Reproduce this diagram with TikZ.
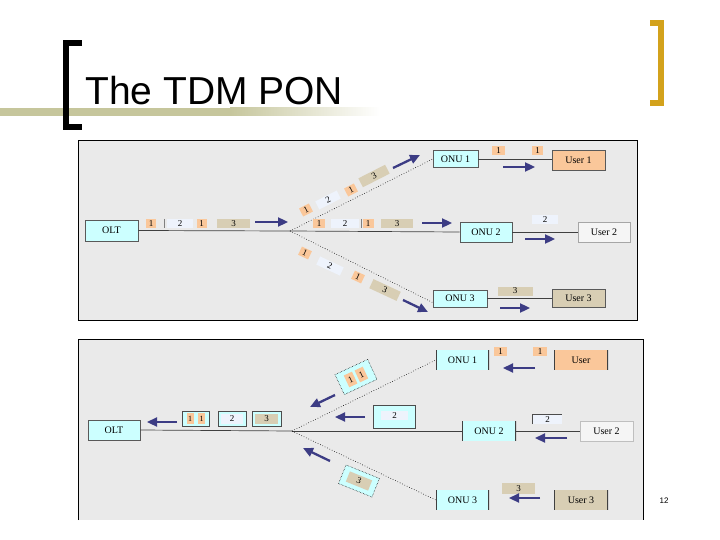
\documentclass[tikz,border=0pt]{standalone}
\usepackage{fontspec}
\setmainfont{Liberation Serif}
\newfontfamily\titlefont{Liberation Sans}
\usetikzlibrary{arrows.meta,calc}
\definecolor{panelbg}{HTML}{EAEAEA}
\definecolor{cyanbox}{HTML}{CCFFFF}
\definecolor{peach}{HTML}{FAC79A}
\definecolor{paleblue}{HTML}{EEF3FC}
\definecolor{tanbox}{HTML}{D8CEB4}
\definecolor{usertwo}{HTML}{F5F5F5}
\definecolor{navyarr}{HTML}{3C3C84}
\definecolor{goldbr}{HTML}{D3A21C}
\definecolor{khakiline}{HTML}{C6C69C}
\begin{document}
\begin{tikzpicture}[x=1pt,y=-1pt,
 box/.style={draw=black!65, line width=0.7pt, inner sep=0pt, font=\fontsize{10}{10}\selectfont},
 vbox/.style={inner sep=0pt, font=\fontsize{10}{10}\selectfont,
   path picture={\draw[line width=1.8pt, black!75]
     (path picture bounding box.north west) -- (path picture bounding box.south west)
     (path picture bounding box.north east) -- (path picture bounding box.south east);}},
 pkt/.style={inner sep=0pt, font=\fontsize{9}{9}\selectfont},
 arr/.style={draw=navyarr, line width=2.3pt, -{Triangle[length=10pt,width=9pt]}},
 fiber/.style={draw=black!75, line width=0.7pt},
 dfiber/.style={draw=black, line width=0.6pt, dotted},
 pframe/.style={fill=cyanbox, inner sep=0pt, draw=black, line width=0.5pt, densely dotted},
 tick/.style={draw=gray, line width=0.6pt}
]
\useasboundingbox (0,0) rectangle (720,540);
\fill[white] (0,0) rectangle (720,540);

% ---------- title ----------
\fill[khakiline] (0,108) rectangle (230,116);
\shade[left color=khakiline, right color=white] (230,108) rectangle (380,116);
\draw[line width=6pt, black, line join=miter] (82,43) -- (66,43) -- (66,127) -- (82,127);
\draw[line width=6pt, goldbr, line join=miter] (650,23) -- (661,23) -- (661,103) -- (650,103);
\node[anchor=base west, inner sep=0pt, font=\titlefont\fontsize{39}{39}\selectfont] (title) at (85,105) {The TDM PON};
\node[font=\titlefont\fontsize{8}{8}\selectfont] (pageno) at (664,501) {12};

% ---------- top panel ----------
\fill[panelbg] (78,140) rectangle (637,320);
\draw[black, line width=0.8pt] (78,140) rectangle (637,320);

\node[box, fill=cyanbox, minimum width=53pt, minimum height=21pt] (olt1) at (111.5,230.5) {OLT};
\coordinate (sp1) at (290,231);
\node[box, fill=cyanbox, minimum width=45pt, minimum height=17pt] (onu11) at (455.5,159) {ONU 1};
\node[box, fill=peach, minimum width=53pt, minimum height=20pt] (usr11) at (578.5,160) {User 1};
\node[box, fill=cyanbox, minimum width=52pt, minimum height=20pt] (onu12) at (486,232) {ONU 2};
\node[box, draw=black!35, fill=usertwo, minimum width=52pt, minimum height=20pt] (usr12) at (604,232) {User 2};
\node[box, fill=cyanbox, minimum width=54pt, minimum height=17pt] (onu13) at (460,298.5) {ONU 3};
\node[box, fill=tanbox, minimum width=53pt, minimum height=18pt] (usr13) at (578.5,298) {User 3};

\draw[fiber] (olt1.east) -- (sp1);
\draw[fiber] (sp1) -- (onu12.west);
\draw[dfiber] (sp1) -- (onu11.west);
\draw[dfiber] (sp1) -- ([yshift=-4pt]onu13.west);
\draw[fiber] (onu11.east) -- (onu11.east -| usr11.west);
\draw[fiber] (onu12.east) -- (usr12.west);
\draw[fiber] (onu13.east) -- (onu13.east -| usr13.west);

% packets on OLT line
\node[pkt, fill=peach, minimum width=10pt, minimum height=9pt] (a1) at (151,223.5) {1};
\draw[tick] (164,219) -- (164,228);
\node[pkt, fill=paleblue, minimum width=26pt, minimum height=9pt] (a2) at (180,223.5) {2};
\node[pkt, fill=peach, minimum width=10pt, minimum height=9pt] (a3) at (201.5,223.5) {1};
\node[pkt, fill=tanbox, minimum width=33pt, minimum height=9pt] (a4) at (233.5,223.5) {3};
\coordinate (ar1s) at (255,222); \coordinate (ar1e) at (288,222);
\draw[arr] (ar1s) -- (ar1e);

% packets on middle branch
\node[pkt, fill=peach, minimum width=12pt, minimum height=9pt] (b1) at (319,223.5) {1};
\node[pkt, fill=paleblue, minimum width=28pt, minimum height=9pt] (b2) at (345,223.5) {2};
\draw[tick] (361,219) -- (361,228);
\node[pkt, fill=peach, minimum width=11pt, minimum height=9pt] (b3) at (368,223.5) {1};
\node[pkt, fill=tanbox, minimum width=32pt, minimum height=9pt] (b4) at (397,223.5) {3};
\coordinate (ar2s) at (422,223); \coordinate (ar2e) at (452,223);
\draw[arr] (ar2s) -- (ar2e);

% packets on upper branch
\node[pkt, rotate=27, fill=peach, minimum width=11pt, minimum height=9pt] (c1) at (306,210) {1};
\node[pkt, rotate=27, fill=paleblue, minimum width=24pt, minimum height=9pt] (c2) at (328,200) {2};
\node[pkt, rotate=27, fill=peach, minimum width=11pt, minimum height=9pt] (c3) at (351,190) {1};
\node[pkt, rotate=27, fill=tanbox, minimum width=30pt, minimum height=10pt] (c4) at (374,176) {3};
\coordinate (ar3s) at (393,168); \coordinate (ar3e) at (420,155);
\draw[arr] (ar3s) -- (ar3e);

% packets on lower branch
\node[pkt, rotate=-25, fill=peach, minimum width=11pt, minimum height=9pt] (d1) at (305,253) {1};
\node[pkt, rotate=-25, fill=paleblue, minimum width=26pt, minimum height=9pt] (d2) at (330,266) {2};
\node[pkt, rotate=-25, fill=peach, minimum width=11pt, minimum height=9pt] (d3) at (358,277) {1};
\node[pkt, rotate=-25, fill=tanbox, minimum width=30pt, minimum height=10pt] (d4) at (385,290) {3};
\coordinate (ar4s) at (403,300); \coordinate (ar4e) at (428,312);
\draw[arr] (ar4s) -- (ar4e);

% ONU side packets
\node[pkt, fill=peach, minimum width=13pt, minimum height=9pt] (e1) at (498.5,151) {1};
\node[pkt, fill=peach, minimum width=11pt, minimum height=9pt] (e2) at (537.5,151) {1};
\coordinate (ar5s) at (503,167); \coordinate (ar5e) at (535,167);
\draw[arr] (ar5s) -- (ar5e);
\node[pkt, fill=paleblue, minimum width=26pt, minimum height=9pt] (e3) at (545,220) {2};
\coordinate (ar6s) at (525,239); \coordinate (ar6e) at (555,239);
\draw[arr] (ar6s) -- (ar6e);
\node[pkt, fill=tanbox, minimum width=35pt, minimum height=9pt] (e4) at (515,291) {3};
\coordinate (ar7s) at (500,308); \coordinate (ar7e) at (530,308);
\draw[arr] (ar7s) -- (ar7e);

% ---------- bottom panel ----------
\fill[panelbg] (78,339) rectangle (643,520);
\draw[black, line width=0.8pt] (78,520) -- (78,339) -- (643,339) -- (643,520);

\node[box, fill=cyanbox, minimum width=52pt, minimum height=20pt] (olt2) at (114,430) {OLT};
\coordinate (sp2) at (292,431);
\node[vbox, fill=cyanbox, minimum width=53pt, minimum height=20pt] (onu21) at (462.5,360) {ONU 1};
\node[vbox, fill=peach, minimum width=54pt, minimum height=20pt] (usr21) at (581,360) {User};
\node[vbox, fill=cyanbox, minimum width=54pt, minimum height=20pt] (onu22) at (489,431) {ONU 2};
\node[box, draw=black!25, fill=usertwo, minimum width=53pt, minimum height=20pt] (usr22) at (606.5,431) {User 2};
\node[vbox, fill=cyanbox, minimum width=53pt, minimum height=20pt] (onu23) at (462.5,500) {ONU 3};
\node[vbox, fill=tanbox, minimum width=54pt, minimum height=20pt] (usr23) at (581,500) {User 3};

\draw[fiber] (olt2.east) -- (sp2);
\draw[fiber] (sp2) -- (onu22.west);
\draw[dfiber] (sp2) -- (onu21.west);
\draw[dfiber] (sp2) -- (onu23.west);
\draw[fiber] (onu22.east) -- (usr22.west);

% frames near OLT
\node[pframe, solid, draw=black!70, minimum width=27pt, minimum height=15pt] (f1) at (195.5,418.5) {};
\node[pkt, fill=peach, minimum width=7pt, minimum height=11pt, font=\fontsize{8}{8}\selectfont] (f1a) at (190,418.5) {1};
\node[pkt, fill=peach, minimum width=7pt, minimum height=11pt, font=\fontsize{8}{8}\selectfont] (f1b) at (201.5,418.5) {1};
\node[pframe, solid, draw=black!70, minimum width=28pt, minimum height=15pt] (f2) at (232,418.5) {};
\node[pkt, fill=paleblue, minimum width=22pt, minimum height=10pt] (f2a) at (232,419) {2};
\node[pframe, solid, draw=black!70, minimum width=29pt, minimum height=15pt] (f3) at (266.5,418.5) {};
\node[pkt, fill=tanbox, minimum width=23pt, minimum height=10pt] (f3a) at (266.5,419) {3};
\coordinate (br1s) at (177,422); \coordinate (br1e) at (147,422);
\draw[arr] (br1s) -- (br1e);

% middle frame
\node[pframe, solid, draw=black!70, minimum width=42pt, minimum height=23pt] (g1) at (394,416.5) {};
\node[pkt, fill=paleblue, minimum width=27pt, minimum height=9pt] (g1a) at (394.5,415.5) {2};
\coordinate (br2s) at (365,417); \coordinate (br2e) at (335,417);
\draw[arr] (br2s) -- (br2e);

% rotated upper frame
\node[pframe, rotate=25, minimum width=36pt, minimum height=22pt] (h1) at (356,377) {};
\node[pkt, rotate=25, fill=peach, minimum width=9pt, minimum height=13pt] (h1a) at (350.6,379.5) {1};
\node[pkt, rotate=25, fill=peach, minimum width=9pt, minimum height=13pt] (h1b) at (361.4,374.5) {1};
\coordinate (br3s) at (335,395); \coordinate (br3e) at (310,407);
\draw[arr] (br3s) -- (br3e);

% rotated lower frame
\node[pframe, rotate=-22, minimum width=36pt, minimum height=20pt] (h2) at (359,481) {};
\node[pkt, rotate=-22, fill=tanbox, minimum width=24pt, minimum height=11pt] (h2a) at (359,481) {3};
\coordinate (br4s) at (330,461); \coordinate (br4e) at (303,448);
\draw[arr] (br4s) -- (br4e);

% ONU side packets (upstream)
\node[pkt, fill=peach, minimum width=13pt, minimum height=9pt] (k1) at (500.5,351.5) {1};
\node[pkt, fill=peach, minimum width=14pt, minimum height=9pt] (k2) at (540,351.5) {1};
\coordinate (br5s) at (535,368); \coordinate (br5e) at (503,368);
\draw[arr] (br5s) -- (br5e);
\node[pkt, fill=paleblue, minimum width=29pt, minimum height=9pt] (k3) at (547.5,419.5) {2};
\draw[black!70, line width=0.7pt] (k3.south west) -- (k3.north west) -- (k3.north east);
\coordinate (br6s) at (567,438); \coordinate (br6e) at (535,438);
\draw[arr] (br6s) -- (br6e);
\node[pkt, fill=tanbox, minimum width=33pt, minimum height=11pt] (k4) at (518.5,488.5) {3};
\coordinate (br7s) at (540,498); \coordinate (br7e) at (509,498);
\draw[arr] (br7s) -- (br7e);
\end{tikzpicture}
\end{document}
